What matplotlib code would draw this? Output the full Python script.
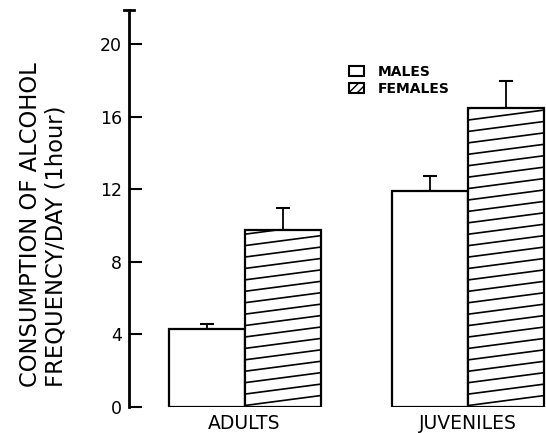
import matplotlib
matplotlib.use("Agg")
import matplotlib.pyplot as plt
from matplotlib.patches import Patch
import numpy as np

groups = ["ADULTS", "JUVENILES"]
males = [4.3, 11.9]
males_err = [0.3, 0.85]
females = [9.75, 16.5]
females_err = [1.25, 1.5]
yticks = [0, 4, 8, 12, 16, 20]

W, H = 546, 433
fig = plt.figure(figsize=(W / 100, H / 100), dpi=100)
ax = fig.add_axes([129 / W, 1 - 407 / H, (W - 129) / W, (407 - 10) / H])

x = np.arange(len(groups))
bw = 0.34
ax.set_xlim(-0.517, 1.349)
ax.set_ylim(0, 21.9)

mbars = ax.bar(x - bw / 2, males, bw, color="white", edgecolor="black", linewidth=1.6, zorder=2)
fbars = ax.bar(x + bw / 2, females, bw, color="white", edgecolor="black", linewidth=1.6, zorder=2)

ax.errorbar(x - bw / 2, males, yerr=[np.zeros(len(males)), males_err], fmt="none",
            ecolor="black", elinewidth=1.3, capsize=5, capthick=1.5, zorder=1)
ax.errorbar(x + bw / 2, females, yerr=[np.zeros(len(females)), females_err], fmt="none",
            ecolor="black", elinewidth=1.3, capsize=5, capthick=1.5, zorder=1)

# shallow diagonal hatching drawn as clipped lines
spacing = 0.63
rise = 0.55
for b in fbars:
    x0 = b.get_x()
    x1 = x0 + b.get_width()
    top = b.get_height()
    k = -rise
    while k < top + spacing:
        ln, = ax.plot([x0, x1], [k, k + rise], color="black", lw=1.2, zorder=3)
        ln.set_clip_path(b)
        k += spacing

for s in ["top", "right", "bottom"]:
    ax.spines[s].set_visible(False)
ax.spines["left"].set_linewidth(2)
ax.plot([-0.012, 0.012], [1, 1], transform=ax.transAxes, color="black", lw=2, clip_on=False)

ax.set_yticks(yticks)
ax.set_yticklabels([str(t) for t in yticks], fontsize=12.5)
ax.tick_params(axis="y", direction="in", length=9, width=1.5, pad=5)
ax.set_xticks(x)
ax.set_xticklabels(groups, fontsize=13.5)
ax.tick_params(axis="x", length=0, pad=5)

fig.text(43 / W, 1 - 387 / H, "CONSUMPTION OF ALCOHOL\nFREQUENCY/DAY (1hour)",
         rotation=90, ha="center", va="bottom", multialignment="left",
         fontsize=16.3, linespacing=1.15)

handles = [Patch(facecolor="white", edgecolor="black", linewidth=1.5),
           Patch(facecolor="white", edgecolor="black", linewidth=1.5, hatch="////")]
ax.legend(handles, ["MALES", "FEMALES"], loc="upper left",
          bbox_to_anchor=(342 / W, 1 - 58 / H), bbox_transform=fig.transFigure,
          frameon=False, handlelength=1.1, handleheight=0.8,
          labelspacing=0.2, handletextpad=1.0, borderpad=0,
          prop={"weight": "bold", "size": 10})

fig.savefig("out.png", dpi=100)
